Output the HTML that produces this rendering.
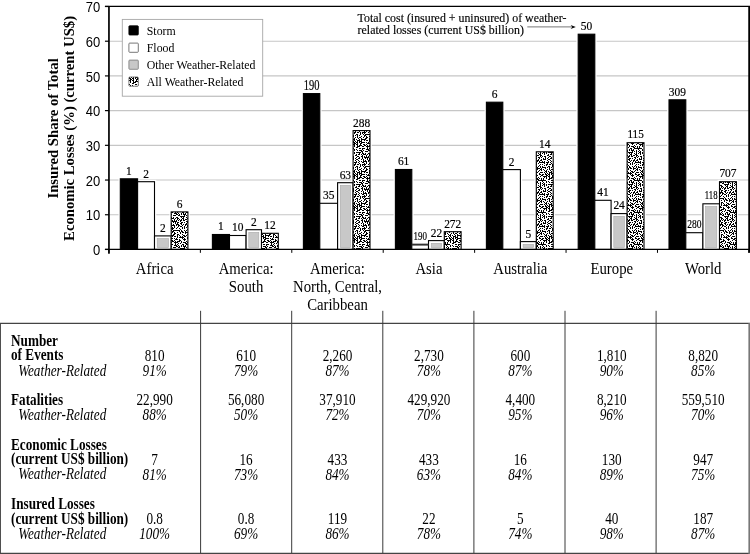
<!DOCTYPE html>
<html><head><meta charset="utf-8"><title>Insured share of total economic losses</title>
<style>html,body{margin:0;padding:0;background:#fff}svg{display:block}</style></head>
<body><svg width="750" height="554" viewBox="0 0 750 554">
<rect width="750" height="554" fill="#fff"/>
<defs><pattern id="sp" width="32" height="32" patternUnits="userSpaceOnUse"><rect width="32" height="32" fill="#fff"/><g fill="#000" shape-rendering="crispEdges"><rect x="3" y="0" width="1" height="1"/><rect x="6" y="0" width="1" height="1"/><rect x="11" y="0" width="1" height="1"/><rect x="13" y="0" width="1" height="1"/><rect x="16" y="0" width="3" height="1"/><rect x="21" y="0" width="1" height="1"/><rect x="23" y="0" width="1" height="1"/><rect x="25" y="0" width="2" height="1"/><rect x="28" y="0" width="2" height="1"/><rect x="0" y="1" width="1" height="1"/><rect x="4" y="1" width="1" height="1"/><rect x="7" y="1" width="1" height="1"/><rect x="9" y="1" width="1" height="1"/><rect x="11" y="1" width="4" height="1"/><rect x="16" y="1" width="1" height="1"/><rect x="18" y="1" width="2" height="1"/><rect x="22" y="1" width="1" height="1"/><rect x="25" y="1" width="1" height="1"/><rect x="27" y="1" width="1" height="1"/><rect x="30" y="1" width="1" height="1"/><rect x="0" y="2" width="1" height="1"/><rect x="2" y="2" width="3" height="1"/><rect x="6" y="2" width="1" height="1"/><rect x="10" y="2" width="2" height="1"/><rect x="14" y="2" width="1" height="1"/><rect x="18" y="2" width="1" height="1"/><rect x="20" y="2" width="2" height="1"/><rect x="24" y="2" width="1" height="1"/><rect x="27" y="2" width="5" height="1"/><rect x="0" y="3" width="1" height="1"/><rect x="3" y="3" width="1" height="1"/><rect x="7" y="3" width="1" height="1"/><rect x="12" y="3" width="1" height="1"/><rect x="14" y="3" width="1" height="1"/><rect x="17" y="3" width="1" height="1"/><rect x="22" y="3" width="1" height="1"/><rect x="24" y="3" width="1" height="1"/><rect x="26" y="3" width="1" height="1"/><rect x="2" y="4" width="2" height="1"/><rect x="5" y="4" width="2" height="1"/><rect x="8" y="4" width="1" height="1"/><rect x="10" y="4" width="4" height="1"/><rect x="16" y="4" width="1" height="1"/><rect x="19" y="4" width="1" height="1"/><rect x="22" y="4" width="1" height="1"/><rect x="24" y="4" width="1" height="1"/><rect x="28" y="4" width="1" height="1"/><rect x="30" y="4" width="1" height="1"/><rect x="0" y="5" width="1" height="1"/><rect x="2" y="5" width="1" height="1"/><rect x="8" y="5" width="1" height="1"/><rect x="10" y="5" width="1" height="1"/><rect x="12" y="5" width="1" height="1"/><rect x="20" y="5" width="1" height="1"/><rect x="27" y="5" width="1" height="1"/><rect x="4" y="6" width="2" height="1"/><rect x="8" y="6" width="1" height="1"/><rect x="11" y="6" width="1" height="1"/><rect x="13" y="6" width="7" height="1"/><rect x="21" y="6" width="1" height="1"/><rect x="24" y="6" width="1" height="1"/><rect x="26" y="6" width="1" height="1"/><rect x="28" y="6" width="1" height="1"/><rect x="30" y="6" width="1" height="1"/><rect x="0" y="7" width="2" height="1"/><rect x="3" y="7" width="1" height="1"/><rect x="5" y="7" width="1" height="1"/><rect x="7" y="7" width="1" height="1"/><rect x="12" y="7" width="2" height="1"/><rect x="19" y="7" width="1" height="1"/><rect x="21" y="7" width="2" height="1"/><rect x="25" y="7" width="1" height="1"/><rect x="28" y="7" width="1" height="1"/><rect x="30" y="7" width="2" height="1"/><rect x="1" y="8" width="1" height="1"/><rect x="5" y="8" width="1" height="1"/><rect x="9" y="8" width="1" height="1"/><rect x="12" y="8" width="1" height="1"/><rect x="14" y="8" width="1" height="1"/><rect x="17" y="8" width="1" height="1"/><rect x="20" y="8" width="1" height="1"/><rect x="22" y="8" width="2" height="1"/><rect x="25" y="8" width="3" height="1"/><rect x="29" y="8" width="1" height="1"/><rect x="3" y="9" width="1" height="1"/><rect x="5" y="9" width="1" height="1"/><rect x="7" y="9" width="2" height="1"/><rect x="11" y="9" width="1" height="1"/><rect x="14" y="9" width="2" height="1"/><rect x="20" y="9" width="1" height="1"/><rect x="25" y="9" width="1" height="1"/><rect x="28" y="9" width="2" height="1"/><rect x="31" y="9" width="1" height="1"/><rect x="0" y="10" width="1" height="1"/><rect x="2" y="10" width="1" height="1"/><rect x="6" y="10" width="1" height="1"/><rect x="9" y="10" width="1" height="1"/><rect x="13" y="10" width="2" height="1"/><rect x="17" y="10" width="2" height="1"/><rect x="22" y="10" width="1" height="1"/><rect x="27" y="10" width="1" height="1"/><rect x="29" y="10" width="1" height="1"/><rect x="1" y="11" width="2" height="1"/><rect x="4" y="11" width="1" height="1"/><rect x="7" y="11" width="1" height="1"/><rect x="9" y="11" width="5" height="1"/><rect x="17" y="11" width="1" height="1"/><rect x="19" y="11" width="1" height="1"/><rect x="23" y="11" width="2" height="1"/><rect x="26" y="11" width="1" height="1"/><rect x="0" y="12" width="1" height="1"/><rect x="2" y="12" width="1" height="1"/><rect x="5" y="12" width="3" height="1"/><rect x="9" y="12" width="1" height="1"/><rect x="12" y="12" width="1" height="1"/><rect x="14" y="12" width="2" height="1"/><rect x="17" y="12" width="1" height="1"/><rect x="20" y="12" width="1" height="1"/><rect x="22" y="12" width="1" height="1"/><rect x="24" y="12" width="2" height="1"/><rect x="28" y="12" width="3" height="1"/><rect x="1" y="13" width="1" height="1"/><rect x="3" y="13" width="1" height="1"/><rect x="5" y="13" width="1" height="1"/><rect x="7" y="13" width="3" height="1"/><rect x="17" y="13" width="1" height="1"/><rect x="19" y="13" width="5" height="1"/><rect x="27" y="13" width="1" height="1"/><rect x="1" y="14" width="2" height="1"/><rect x="4" y="14" width="2" height="1"/><rect x="7" y="14" width="1" height="1"/><rect x="9" y="14" width="4" height="1"/><rect x="14" y="14" width="1" height="1"/><rect x="16" y="14" width="1" height="1"/><rect x="22" y="14" width="1" height="1"/><rect x="24" y="14" width="1" height="1"/><rect x="27" y="14" width="2" height="1"/><rect x="30" y="14" width="2" height="1"/><rect x="2" y="15" width="2" height="1"/><rect x="5" y="15" width="1" height="1"/><rect x="8" y="15" width="2" height="1"/><rect x="15" y="15" width="3" height="1"/><rect x="19" y="15" width="1" height="1"/><rect x="23" y="15" width="3" height="1"/><rect x="29" y="15" width="2" height="1"/><rect x="0" y="16" width="3" height="1"/><rect x="4" y="16" width="2" height="1"/><rect x="8" y="16" width="1" height="1"/><rect x="11" y="16" width="2" height="1"/><rect x="14" y="16" width="1" height="1"/><rect x="19" y="16" width="2" height="1"/><rect x="24" y="16" width="1" height="1"/><rect x="28" y="16" width="1" height="1"/><rect x="31" y="16" width="1" height="1"/><rect x="0" y="17" width="1" height="1"/><rect x="2" y="17" width="1" height="1"/><rect x="5" y="17" width="1" height="1"/><rect x="7" y="17" width="3" height="1"/><rect x="12" y="17" width="2" height="1"/><rect x="15" y="17" width="1" height="1"/><rect x="17" y="17" width="3" height="1"/><rect x="21" y="17" width="1" height="1"/><rect x="26" y="17" width="1" height="1"/><rect x="2" y="18" width="1" height="1"/><rect x="5" y="18" width="3" height="1"/><rect x="10" y="18" width="2" height="1"/><rect x="14" y="18" width="4" height="1"/><rect x="21" y="18" width="1" height="1"/><rect x="23" y="18" width="3" height="1"/><rect x="27" y="18" width="1" height="1"/><rect x="29" y="18" width="1" height="1"/><rect x="31" y="18" width="1" height="1"/><rect x="4" y="19" width="2" height="1"/><rect x="15" y="19" width="1" height="1"/><rect x="18" y="19" width="1" height="1"/><rect x="20" y="19" width="1" height="1"/><rect x="25" y="19" width="2" height="1"/><rect x="29" y="19" width="1" height="1"/><rect x="31" y="19" width="1" height="1"/><rect x="0" y="20" width="2" height="1"/><rect x="7" y="20" width="2" height="1"/><rect x="10" y="20" width="3" height="1"/><rect x="15" y="20" width="1" height="1"/><rect x="17" y="20" width="1" height="1"/><rect x="22" y="20" width="2" height="1"/><rect x="26" y="20" width="6" height="1"/><rect x="2" y="21" width="1" height="1"/><rect x="4" y="21" width="1" height="1"/><rect x="10" y="21" width="1" height="1"/><rect x="14" y="21" width="3" height="1"/><rect x="18" y="21" width="1" height="1"/><rect x="21" y="21" width="1" height="1"/><rect x="23" y="21" width="1" height="1"/><rect x="25" y="21" width="1" height="1"/><rect x="30" y="21" width="1" height="1"/><rect x="2" y="22" width="1" height="1"/><rect x="5" y="22" width="1" height="1"/><rect x="7" y="22" width="3" height="1"/><rect x="11" y="22" width="1" height="1"/><rect x="16" y="22" width="2" height="1"/><rect x="19" y="22" width="1" height="1"/><rect x="21" y="22" width="1" height="1"/><rect x="23" y="22" width="3" height="1"/><rect x="28" y="22" width="1" height="1"/><rect x="31" y="22" width="1" height="1"/><rect x="0" y="23" width="1" height="1"/><rect x="9" y="23" width="2" height="1"/><rect x="13" y="23" width="3" height="1"/><rect x="18" y="23" width="2" height="1"/><rect x="24" y="23" width="1" height="1"/><rect x="26" y="23" width="1" height="1"/><rect x="28" y="23" width="1" height="1"/><rect x="30" y="23" width="1" height="1"/><rect x="0" y="24" width="1" height="1"/><rect x="2" y="24" width="1" height="1"/><rect x="4" y="24" width="5" height="1"/><rect x="10" y="24" width="1" height="1"/><rect x="20" y="24" width="5" height="1"/><rect x="28" y="24" width="1" height="1"/><rect x="31" y="24" width="1" height="1"/><rect x="0" y="25" width="1" height="1"/><rect x="2" y="25" width="1" height="1"/><rect x="7" y="25" width="1" height="1"/><rect x="10" y="25" width="2" height="1"/><rect x="13" y="25" width="1" height="1"/><rect x="16" y="25" width="2" height="1"/><rect x="21" y="25" width="1" height="1"/><rect x="23" y="25" width="1" height="1"/><rect x="26" y="25" width="1" height="1"/><rect x="28" y="25" width="1" height="1"/><rect x="30" y="25" width="1" height="1"/><rect x="0" y="26" width="1" height="1"/><rect x="4" y="26" width="1" height="1"/><rect x="6" y="26" width="2" height="1"/><rect x="9" y="26" width="1" height="1"/><rect x="11" y="26" width="3" height="1"/><rect x="15" y="26" width="1" height="1"/><rect x="17" y="26" width="2" height="1"/><rect x="22" y="26" width="2" height="1"/><rect x="27" y="26" width="2" height="1"/><rect x="3" y="27" width="2" height="1"/><rect x="10" y="27" width="1" height="1"/><rect x="14" y="27" width="1" height="1"/><rect x="17" y="27" width="1" height="1"/><rect x="19" y="27" width="1" height="1"/><rect x="21" y="27" width="1" height="1"/><rect x="23" y="27" width="1" height="1"/><rect x="25" y="27" width="2" height="1"/><rect x="28" y="27" width="2" height="1"/><rect x="0" y="28" width="2" height="1"/><rect x="5" y="28" width="2" height="1"/><rect x="9" y="28" width="2" height="1"/><rect x="12" y="28" width="1" height="1"/><rect x="14" y="28" width="1" height="1"/><rect x="16" y="28" width="1" height="1"/><rect x="18" y="28" width="1" height="1"/><rect x="20" y="28" width="2" height="1"/><rect x="23" y="28" width="2" height="1"/><rect x="28" y="28" width="1" height="1"/><rect x="30" y="28" width="1" height="1"/><rect x="1" y="29" width="1" height="1"/><rect x="4" y="29" width="1" height="1"/><rect x="7" y="29" width="1" height="1"/><rect x="10" y="29" width="1" height="1"/><rect x="12" y="29" width="5" height="1"/><rect x="20" y="29" width="1" height="1"/><rect x="26" y="29" width="2" height="1"/><rect x="29" y="29" width="1" height="1"/><rect x="1" y="30" width="1" height="1"/><rect x="3" y="30" width="1" height="1"/><rect x="6" y="30" width="2" height="1"/><rect x="10" y="30" width="1" height="1"/><rect x="13" y="30" width="1" height="1"/><rect x="15" y="30" width="1" height="1"/><rect x="17" y="30" width="2" height="1"/><rect x="21" y="30" width="2" height="1"/><rect x="24" y="30" width="1" height="1"/><rect x="27" y="30" width="1" height="1"/><rect x="31" y="30" width="1" height="1"/><rect x="0" y="31" width="2" height="1"/><rect x="4" y="31" width="2" height="1"/><rect x="9" y="31" width="1" height="1"/><rect x="11" y="31" width="1" height="1"/><rect x="15" y="31" width="1" height="1"/><rect x="17" y="31" width="1" height="1"/><rect x="20" y="31" width="2" height="1"/><rect x="26" y="31" width="1" height="1"/><rect x="29" y="31" width="1" height="1"/><rect x="31" y="31" width="1" height="1"/></g></pattern></defs>
<line x1="108.95" y1="214.74" x2="749" y2="214.74" stroke="#c6c6c6" stroke-width="1.15"/>
<line x1="108.95" y1="180.04" x2="749" y2="180.04" stroke="#c6c6c6" stroke-width="1.15"/>
<line x1="108.95" y1="145.33" x2="749" y2="145.33" stroke="#c6c6c6" stroke-width="1.15"/>
<line x1="108.95" y1="110.62" x2="749" y2="110.62" stroke="#c6c6c6" stroke-width="1.15"/>
<line x1="108.95" y1="75.91" x2="749" y2="75.91" stroke="#c6c6c6" stroke-width="1.15"/>
<line x1="108.95" y1="41.21" x2="749" y2="41.21" stroke="#c6c6c6" stroke-width="1.15"/>
<line x1="104.95" y1="6.45" x2="750" y2="6.45" stroke="#000" stroke-width="1.25"/>
<line x1="108.95" y1="5.9" x2="108.95" y2="253.64999999999998" stroke="#000" stroke-width="1.7"/>
<line x1="749.2" y1="5.9" x2="749.2" y2="252.85" stroke="#000" stroke-width="1.9"/>
<line x1="104.95" y1="249.45" x2="108.95" y2="249.45" stroke="#000" stroke-width="1.2"/>
<text transform="translate(100.20,255.05) scale(0.930,1)" font-family="'Liberation Sans',sans-serif" font-size="14" text-anchor="end" font-weight="normal" font-style="normal" fill="#000" >0</text>
<line x1="104.95" y1="214.74" x2="108.95" y2="214.74" stroke="#000" stroke-width="1.2"/>
<text transform="translate(100.20,220.34) scale(0.930,1)" font-family="'Liberation Sans',sans-serif" font-size="14" text-anchor="end" font-weight="normal" font-style="normal" fill="#000" >10</text>
<line x1="104.95" y1="180.04" x2="108.95" y2="180.04" stroke="#000" stroke-width="1.2"/>
<text transform="translate(100.20,185.64) scale(0.930,1)" font-family="'Liberation Sans',sans-serif" font-size="14" text-anchor="end" font-weight="normal" font-style="normal" fill="#000" >20</text>
<line x1="104.95" y1="145.33" x2="108.95" y2="145.33" stroke="#000" stroke-width="1.2"/>
<text transform="translate(100.20,150.93) scale(0.930,1)" font-family="'Liberation Sans',sans-serif" font-size="14" text-anchor="end" font-weight="normal" font-style="normal" fill="#000" >30</text>
<line x1="104.95" y1="110.62" x2="108.95" y2="110.62" stroke="#000" stroke-width="1.2"/>
<text transform="translate(100.20,116.22) scale(0.930,1)" font-family="'Liberation Sans',sans-serif" font-size="14" text-anchor="end" font-weight="normal" font-style="normal" fill="#000" >40</text>
<line x1="104.95" y1="75.91" x2="108.95" y2="75.91" stroke="#000" stroke-width="1.2"/>
<text transform="translate(100.20,81.51) scale(0.930,1)" font-family="'Liberation Sans',sans-serif" font-size="14" text-anchor="end" font-weight="normal" font-style="normal" fill="#000" >50</text>
<line x1="104.95" y1="41.21" x2="108.95" y2="41.21" stroke="#000" stroke-width="1.2"/>
<text transform="translate(100.20,46.81) scale(0.930,1)" font-family="'Liberation Sans',sans-serif" font-size="14" text-anchor="end" font-weight="normal" font-style="normal" fill="#000" >60</text>
<line x1="104.95" y1="6.50" x2="108.95" y2="6.50" stroke="#000" stroke-width="1.2"/>
<text transform="translate(100.20,12.10) scale(0.930,1)" font-family="'Liberation Sans',sans-serif" font-size="14" text-anchor="end" font-weight="normal" font-style="normal" fill="#000" >70</text>
<line x1="108.95" y1="249.45" x2="108.95" y2="252.85" stroke="#000" stroke-width="1.0"/>
<line x1="200.37" y1="249.45" x2="200.37" y2="252.85" stroke="#000" stroke-width="1.0"/>
<line x1="291.79" y1="249.45" x2="291.79" y2="252.85" stroke="#000" stroke-width="1.0"/>
<line x1="383.21" y1="249.45" x2="383.21" y2="252.85" stroke="#000" stroke-width="1.0"/>
<line x1="474.63" y1="249.45" x2="474.63" y2="252.85" stroke="#000" stroke-width="1.0"/>
<line x1="566.05" y1="249.45" x2="566.05" y2="252.85" stroke="#000" stroke-width="1.0"/>
<line x1="657.47" y1="249.45" x2="657.47" y2="252.85" stroke="#000" stroke-width="1.0"/>
<line x1="748.89" y1="249.45" x2="748.89" y2="252.85" stroke="#000" stroke-width="1.0"/>
<rect x="120.30" y="178.80" width="17.30" height="70.65" fill="#fff" stroke="#fff" stroke-width="3.6"/>
<rect x="137.60" y="181.70" width="16.90" height="67.75" fill="#fff" stroke="#fff" stroke-width="3.6"/>
<rect x="154.50" y="235.90" width="16.70" height="13.55" fill="#fff" stroke="#fff" stroke-width="3.6"/>
<rect x="171.20" y="211.90" width="16.70" height="37.55" fill="#fff" stroke="#fff" stroke-width="3.6"/>
<rect x="212.40" y="234.50" width="17.10" height="14.95" fill="#fff" stroke="#fff" stroke-width="3.6"/>
<rect x="229.50" y="235.50" width="16.60" height="13.95" fill="#fff" stroke="#fff" stroke-width="3.6"/>
<rect x="246.10" y="229.70" width="15.40" height="19.75" fill="#fff" stroke="#fff" stroke-width="3.6"/>
<rect x="261.50" y="233.30" width="16.80" height="16.15" fill="#fff" stroke="#fff" stroke-width="3.6"/>
<rect x="303.40" y="93.60" width="16.40" height="155.85" fill="#fff" stroke="#fff" stroke-width="3.6"/>
<rect x="319.80" y="203.30" width="17.80" height="46.15" fill="#fff" stroke="#fff" stroke-width="3.6"/>
<rect x="337.60" y="182.70" width="15.50" height="66.75" fill="#fff" stroke="#fff" stroke-width="3.6"/>
<rect x="353.10" y="130.60" width="16.90" height="118.85" fill="#fff" stroke="#fff" stroke-width="3.6"/>
<rect x="395.40" y="169.50" width="16.40" height="79.95" fill="#fff" stroke="#fff" stroke-width="3.6"/>
<rect x="411.80" y="244.40" width="16.70" height="5.05" fill="#fff" stroke="#fff" stroke-width="3.6"/>
<rect x="428.50" y="240.60" width="15.80" height="8.85" fill="#fff" stroke="#fff" stroke-width="3.6"/>
<rect x="444.30" y="231.70" width="16.80" height="17.75" fill="#fff" stroke="#fff" stroke-width="3.6"/>
<rect x="486.40" y="102.20" width="16.40" height="147.25" fill="#fff" stroke="#fff" stroke-width="3.6"/>
<rect x="502.80" y="169.60" width="17.60" height="79.85" fill="#fff" stroke="#fff" stroke-width="3.6"/>
<rect x="520.40" y="241.60" width="15.90" height="7.85" fill="#fff" stroke="#fff" stroke-width="3.6"/>
<rect x="536.30" y="151.80" width="16.90" height="97.65" fill="#fff" stroke="#fff" stroke-width="3.6"/>
<rect x="578.20" y="34.20" width="16.60" height="215.25" fill="#fff" stroke="#fff" stroke-width="3.6"/>
<rect x="594.80" y="200.30" width="16.30" height="49.15" fill="#fff" stroke="#fff" stroke-width="3.6"/>
<rect x="611.10" y="213.60" width="16.00" height="35.85" fill="#fff" stroke="#fff" stroke-width="3.6"/>
<rect x="627.10" y="142.70" width="16.90" height="106.75" fill="#fff" stroke="#fff" stroke-width="3.6"/>
<rect x="669.00" y="99.80" width="16.80" height="149.65" fill="#fff" stroke="#fff" stroke-width="3.6"/>
<rect x="685.80" y="232.70" width="17.10" height="16.75" fill="#fff" stroke="#fff" stroke-width="3.6"/>
<rect x="702.90" y="203.80" width="16.60" height="45.65" fill="#fff" stroke="#fff" stroke-width="3.6"/>
<rect x="719.50" y="181.70" width="16.90" height="67.75" fill="#fff" stroke="#fff" stroke-width="3.6"/>
<rect x="120.30" y="178.80" width="17.30" height="70.65" fill="#000" stroke="#000" stroke-width="1.1"/>
<text transform="translate(128.95,174.70) scale(0.880,1)" font-family="'Liberation Serif',serif" font-size="13" text-anchor="middle" font-weight="normal" font-style="normal" fill="#000" stroke="#000" stroke-width="0.2">1</text>
<rect x="137.60" y="181.70" width="16.90" height="67.75" fill="#fff" stroke="#000" stroke-width="1.1"/>
<text transform="translate(146.05,177.60) scale(0.880,1)" font-family="'Liberation Serif',serif" font-size="13" text-anchor="middle" font-weight="normal" font-style="normal" fill="#000" stroke="#000" stroke-width="0.2">2</text>
<rect x="154.50" y="235.90" width="16.70" height="13.55" fill="#fff" stroke="#000" stroke-width="1.1"/>
<rect x="157.20" y="238.60" width="11.30" height="8.95" fill="#c8c8c8" stroke="#a8a8a8" stroke-width="0.6"/>
<text transform="translate(162.85,231.80) scale(0.880,1)" font-family="'Liberation Serif',serif" font-size="13" text-anchor="middle" font-weight="normal" font-style="normal" fill="#000" stroke="#000" stroke-width="0.2">2</text>
<rect x="171.20" y="211.90" width="16.70" height="37.55" fill="url(#sp)" stroke="#000" stroke-width="1.1"/>
<text transform="translate(179.55,207.80) scale(0.880,1)" font-family="'Liberation Serif',serif" font-size="13" text-anchor="middle" font-weight="normal" font-style="normal" fill="#000" stroke="#000" stroke-width="0.2">6</text>
<rect x="212.40" y="234.50" width="17.10" height="14.95" fill="#000" stroke="#000" stroke-width="1.1"/>
<text transform="translate(220.95,230.40) scale(0.880,1)" font-family="'Liberation Serif',serif" font-size="13" text-anchor="middle" font-weight="normal" font-style="normal" fill="#000" stroke="#000" stroke-width="0.2">1</text>
<rect x="229.50" y="235.50" width="16.60" height="13.95" fill="#fff" stroke="#000" stroke-width="1.1"/>
<text transform="translate(237.80,231.40) scale(0.880,1)" font-family="'Liberation Serif',serif" font-size="13" text-anchor="middle" font-weight="normal" font-style="normal" fill="#000" stroke="#000" stroke-width="0.2">10</text>
<rect x="246.10" y="229.70" width="15.40" height="19.75" fill="#fff" stroke="#000" stroke-width="1.1"/>
<rect x="248.80" y="232.40" width="10.00" height="15.15" fill="#c8c8c8" stroke="#a8a8a8" stroke-width="0.6"/>
<text transform="translate(253.80,225.60) scale(0.880,1)" font-family="'Liberation Serif',serif" font-size="13" text-anchor="middle" font-weight="normal" font-style="normal" fill="#000" stroke="#000" stroke-width="0.2">2</text>
<rect x="261.50" y="233.30" width="16.80" height="16.15" fill="url(#sp)" stroke="#000" stroke-width="1.1"/>
<text transform="translate(269.90,229.20) scale(0.880,1)" font-family="'Liberation Serif',serif" font-size="13" text-anchor="middle" font-weight="normal" font-style="normal" fill="#000" stroke="#000" stroke-width="0.2">12</text>
<rect x="303.40" y="93.60" width="16.40" height="155.85" fill="#000" stroke="#000" stroke-width="1.1"/>
<text transform="translate(311.60,90.10) scale(0.740,1)" font-family="'Liberation Serif',serif" font-size="14.2" text-anchor="middle" font-weight="normal" font-style="normal" fill="#000" stroke="#000" stroke-width="0.2">190</text>
<rect x="319.80" y="203.30" width="17.80" height="46.15" fill="#fff" stroke="#000" stroke-width="1.1"/>
<text transform="translate(328.70,199.20) scale(0.880,1)" font-family="'Liberation Serif',serif" font-size="13" text-anchor="middle" font-weight="normal" font-style="normal" fill="#000" stroke="#000" stroke-width="0.2">35</text>
<rect x="337.60" y="182.70" width="15.50" height="66.75" fill="#fff" stroke="#000" stroke-width="1.1"/>
<rect x="340.30" y="185.40" width="10.10" height="62.15" fill="#c8c8c8" stroke="#a8a8a8" stroke-width="0.6"/>
<text transform="translate(345.35,178.60) scale(0.880,1)" font-family="'Liberation Serif',serif" font-size="13" text-anchor="middle" font-weight="normal" font-style="normal" fill="#000" stroke="#000" stroke-width="0.2">63</text>
<rect x="353.10" y="130.60" width="16.90" height="118.85" fill="url(#sp)" stroke="#000" stroke-width="1.1"/>
<text transform="translate(361.55,126.50) scale(0.880,1)" font-family="'Liberation Serif',serif" font-size="13" text-anchor="middle" font-weight="normal" font-style="normal" fill="#000" stroke="#000" stroke-width="0.2">288</text>
<rect x="395.40" y="169.50" width="16.40" height="79.95" fill="#000" stroke="#000" stroke-width="1.1"/>
<text transform="translate(403.60,165.40) scale(0.880,1)" font-family="'Liberation Serif',serif" font-size="13" text-anchor="middle" font-weight="normal" font-style="normal" fill="#000" stroke="#000" stroke-width="0.2">61</text>
<rect x="411.80" y="244.40" width="16.70" height="5.05" fill="#fff" stroke="#000" stroke-width="1.1"/>
<text transform="translate(420.15,240.30) scale(0.690,1)" font-family="'Liberation Serif',serif" font-size="13" text-anchor="middle" font-weight="normal" font-style="normal" fill="#000" stroke="#000" stroke-width="0.2">190</text>
<rect x="428.50" y="240.60" width="15.80" height="8.85" fill="#fff" stroke="#000" stroke-width="1.1"/>
<rect x="431.20" y="243.30" width="10.40" height="4.25" fill="#c8c8c8" stroke="#a8a8a8" stroke-width="0.6"/>
<text transform="translate(436.40,236.50) scale(0.880,1)" font-family="'Liberation Serif',serif" font-size="13" text-anchor="middle" font-weight="normal" font-style="normal" fill="#000" stroke="#000" stroke-width="0.2">22</text>
<rect x="444.30" y="231.70" width="16.80" height="17.75" fill="url(#sp)" stroke="#000" stroke-width="1.1"/>
<text transform="translate(452.70,227.60) scale(0.880,1)" font-family="'Liberation Serif',serif" font-size="13" text-anchor="middle" font-weight="normal" font-style="normal" fill="#000" stroke="#000" stroke-width="0.2">272</text>
<rect x="486.40" y="102.20" width="16.40" height="147.25" fill="#000" stroke="#000" stroke-width="1.1"/>
<text transform="translate(494.60,98.10) scale(0.880,1)" font-family="'Liberation Serif',serif" font-size="13" text-anchor="middle" font-weight="normal" font-style="normal" fill="#000" stroke="#000" stroke-width="0.2">6</text>
<rect x="502.80" y="169.60" width="17.60" height="79.85" fill="#fff" stroke="#000" stroke-width="1.1"/>
<text transform="translate(511.60,165.50) scale(0.880,1)" font-family="'Liberation Serif',serif" font-size="13" text-anchor="middle" font-weight="normal" font-style="normal" fill="#000" stroke="#000" stroke-width="0.2">2</text>
<rect x="520.40" y="241.60" width="15.90" height="7.85" fill="#fff" stroke="#000" stroke-width="1.1"/>
<rect x="523.10" y="244.30" width="10.50" height="3.25" fill="#c8c8c8" stroke="#a8a8a8" stroke-width="0.6"/>
<text transform="translate(528.35,237.50) scale(0.880,1)" font-family="'Liberation Serif',serif" font-size="13" text-anchor="middle" font-weight="normal" font-style="normal" fill="#000" stroke="#000" stroke-width="0.2">5</text>
<rect x="536.30" y="151.80" width="16.90" height="97.65" fill="url(#sp)" stroke="#000" stroke-width="1.1"/>
<text transform="translate(544.75,147.70) scale(0.880,1)" font-family="'Liberation Serif',serif" font-size="13" text-anchor="middle" font-weight="normal" font-style="normal" fill="#000" stroke="#000" stroke-width="0.2">14</text>
<rect x="578.20" y="34.20" width="16.60" height="215.25" fill="#000" stroke="#000" stroke-width="1.1"/>
<text transform="translate(586.50,30.10) scale(0.880,1)" font-family="'Liberation Serif',serif" font-size="13" text-anchor="middle" font-weight="normal" font-style="normal" fill="#000" stroke="#000" stroke-width="0.2">50</text>
<rect x="594.80" y="200.30" width="16.30" height="49.15" fill="#fff" stroke="#000" stroke-width="1.1"/>
<text transform="translate(602.95,196.20) scale(0.880,1)" font-family="'Liberation Serif',serif" font-size="13" text-anchor="middle" font-weight="normal" font-style="normal" fill="#000" stroke="#000" stroke-width="0.2">41</text>
<rect x="611.10" y="213.60" width="16.00" height="35.85" fill="#fff" stroke="#000" stroke-width="1.1"/>
<rect x="613.80" y="216.30" width="10.60" height="31.25" fill="#c8c8c8" stroke="#a8a8a8" stroke-width="0.6"/>
<text transform="translate(619.10,208.90) scale(0.880,1)" font-family="'Liberation Serif',serif" font-size="13" text-anchor="middle" font-weight="normal" font-style="normal" fill="#000" stroke="#000" stroke-width="0.2">24</text>
<rect x="627.10" y="142.70" width="16.90" height="106.75" fill="url(#sp)" stroke="#000" stroke-width="1.1"/>
<text transform="translate(635.55,138.00) scale(0.860,1)" font-family="'Liberation Serif',serif" font-size="13" text-anchor="middle" font-weight="normal" font-style="normal" fill="#000" stroke="#000" stroke-width="0.2">115</text>
<rect x="669.00" y="99.80" width="16.80" height="149.65" fill="#000" stroke="#000" stroke-width="1.1"/>
<text transform="translate(677.40,95.70) scale(0.880,1)" font-family="'Liberation Serif',serif" font-size="13" text-anchor="middle" font-weight="normal" font-style="normal" fill="#000" stroke="#000" stroke-width="0.2">309</text>
<rect x="685.80" y="232.70" width="17.10" height="16.75" fill="#fff" stroke="#000" stroke-width="1.1"/>
<text transform="translate(694.35,228.30) scale(0.730,1)" font-family="'Liberation Serif',serif" font-size="13" text-anchor="middle" font-weight="normal" font-style="normal" fill="#000" stroke="#000" stroke-width="0.2">280</text>
<rect x="702.90" y="203.80" width="16.60" height="45.65" fill="#fff" stroke="#000" stroke-width="1.1"/>
<rect x="705.60" y="206.50" width="11.20" height="41.05" fill="#c8c8c8" stroke="#a8a8a8" stroke-width="0.6"/>
<text transform="translate(711.20,199.00) scale(0.670,1)" font-family="'Liberation Serif',serif" font-size="13" text-anchor="middle" font-weight="normal" font-style="normal" fill="#000" stroke="#000" stroke-width="0.2">118</text>
<rect x="719.50" y="181.70" width="16.90" height="67.75" fill="url(#sp)" stroke="#000" stroke-width="1.1"/>
<text transform="translate(727.95,176.60) scale(0.880,1)" font-family="'Liberation Serif',serif" font-size="13" text-anchor="middle" font-weight="normal" font-style="normal" fill="#000" stroke="#000" stroke-width="0.2">707</text>
<line x1="411.8" y1="244.7" x2="428.5" y2="244.7" stroke="#333" stroke-width="1.8"/>
<line x1="104.95" y1="249.45" x2="750" y2="249.45" stroke="#000" stroke-width="1.3"/>
<rect x="122.3" y="19.4" width="140.4" height="76.8" fill="#fff" stroke="#a6a6a6" stroke-width="0.9"/>
<rect x="128.9" y="25.799999999999997" width="9.4" height="9.2" rx="0.8" fill="#000" stroke="#000" stroke-width="0.8"/>
<text transform="translate(146.80,35.00) scale(0.897,1)" font-family="'Liberation Serif',serif" font-size="13.2" text-anchor="start" font-weight="normal" font-style="normal" fill="#000" >Storm</text>
<rect x="128.9" y="43.1" width="9.4" height="9.2" rx="0.8" fill="#fff" stroke="#555" stroke-width="0.8"/>
<text transform="translate(146.80,52.30) scale(0.897,1)" font-family="'Liberation Serif',serif" font-size="13.2" text-anchor="start" font-weight="normal" font-style="normal" fill="#000" >Flood</text>
<rect x="128.9" y="60.1" width="9.4" height="9.2" rx="0.8" fill="#c8c8c8" stroke="#777" stroke-width="0.8"/>
<text transform="translate(146.80,69.30) scale(0.897,1)" font-family="'Liberation Serif',serif" font-size="13.2" text-anchor="start" font-weight="normal" font-style="normal" fill="#000" >Other Weather-Related</text>
<rect x="128.9" y="77.0" width="9.4" height="9.2" rx="0.8" fill="url(#sp)" stroke="#666" stroke-width="0.8"/>
<text transform="translate(146.80,86.20) scale(0.897,1)" font-family="'Liberation Serif',serif" font-size="13.2" text-anchor="start" font-weight="normal" font-style="normal" fill="#000" >All Weather-Related</text>
<text transform="translate(357.60,21.50) scale(0.990,1)" font-family="'Liberation Serif',serif" font-size="12" text-anchor="start" font-weight="normal" font-style="normal" fill="#000" stroke="#000" stroke-width="0.15">Total cost (insured + uninsured) of weather-</text>
<text transform="translate(357.60,33.60) scale(0.990,1)" font-family="'Liberation Serif',serif" font-size="12" text-anchor="start" font-weight="normal" font-style="normal" fill="#000" stroke="#000" stroke-width="0.15">related losses (current US$ billion)</text>
<line x1="527.3" y1="26.9" x2="572" y2="26.9" stroke="#777" stroke-width="1"/>
<path d="M575.8 26.9 L570.6 24.9 L572.3 26.9 L570.6 28.9 Z" fill="#000"/>
<text transform="translate(58.20,128.40) rotate(-90) scale(0.980,1)" font-family="'Liberation Serif',serif" font-size="15" text-anchor="middle" font-weight="bold" font-style="normal" fill="#000" >Insured Share of Total</text>
<text transform="translate(73.60,128.40) rotate(-90) scale(0.980,1)" font-family="'Liberation Serif',serif" font-size="15" text-anchor="middle" font-weight="bold" font-style="normal" fill="#000" >Economic Losses (%) (current US$)</text>
<text transform="translate(154.66,273.80) scale(0.935,1)" font-family="'Liberation Serif',serif" font-size="15.8" text-anchor="middle" font-weight="normal" font-style="normal" fill="#000" >Africa</text>
<text transform="translate(246.08,273.80) scale(0.935,1)" font-family="'Liberation Serif',serif" font-size="15.8" text-anchor="middle" font-weight="normal" font-style="normal" fill="#000" >America:</text>
<text transform="translate(246.08,291.70) scale(0.935,1)" font-family="'Liberation Serif',serif" font-size="15.8" text-anchor="middle" font-weight="normal" font-style="normal" fill="#000" >South</text>
<text transform="translate(337.50,273.80) scale(0.935,1)" font-family="'Liberation Serif',serif" font-size="15.8" text-anchor="middle" font-weight="normal" font-style="normal" fill="#000" >America:</text>
<text transform="translate(337.50,291.70) scale(0.935,1)" font-family="'Liberation Serif',serif" font-size="15.8" text-anchor="middle" font-weight="normal" font-style="normal" fill="#000" >North, Central,</text>
<text transform="translate(337.50,309.60) scale(0.935,1)" font-family="'Liberation Serif',serif" font-size="15.8" text-anchor="middle" font-weight="normal" font-style="normal" fill="#000" >Caribbean</text>
<text transform="translate(428.92,273.80) scale(0.935,1)" font-family="'Liberation Serif',serif" font-size="15.8" text-anchor="middle" font-weight="normal" font-style="normal" fill="#000" >Asia</text>
<text transform="translate(520.34,273.80) scale(0.935,1)" font-family="'Liberation Serif',serif" font-size="15.8" text-anchor="middle" font-weight="normal" font-style="normal" fill="#000" >Australia</text>
<text transform="translate(611.76,273.80) scale(0.935,1)" font-family="'Liberation Serif',serif" font-size="15.8" text-anchor="middle" font-weight="normal" font-style="normal" fill="#000" >Europe</text>
<text transform="translate(703.18,273.80) scale(0.935,1)" font-family="'Liberation Serif',serif" font-size="15.8" text-anchor="middle" font-weight="normal" font-style="normal" fill="#000" >World</text>
<line x1="0" y1="323.3" x2="750" y2="323.3" stroke="#444" stroke-width="1.2"/>
<line x1="0" y1="553.3" x2="750" y2="553.3" stroke="#444" stroke-width="1.3"/>
<line x1="0.45" y1="323" x2="0.45" y2="554" stroke="#444" stroke-width="1.0"/>
<line x1="749.2" y1="323" x2="749.2" y2="554" stroke="#777" stroke-width="1.6"/>
<line x1="200.60" y1="310.8" x2="200.60" y2="553" stroke="#3a3a3a" stroke-width="1.0"/>
<line x1="291.70" y1="310.8" x2="291.70" y2="553" stroke="#3a3a3a" stroke-width="1.0"/>
<line x1="382.80" y1="310.8" x2="382.80" y2="553" stroke="#3a3a3a" stroke-width="1.0"/>
<line x1="473.90" y1="310.8" x2="473.90" y2="553" stroke="#3a3a3a" stroke-width="1.0"/>
<line x1="565.00" y1="310.8" x2="565.00" y2="553" stroke="#3a3a3a" stroke-width="1.0"/>
<line x1="656.10" y1="310.8" x2="656.10" y2="553" stroke="#3a3a3a" stroke-width="1.0"/>
<text transform="translate(11.00,345.80) scale(0.843,1)" font-family="'Liberation Serif',serif" font-size="15.7" text-anchor="start" font-weight="bold" font-style="normal" fill="#000" >Number</text>
<text transform="translate(11.00,360.40) scale(0.843,1)" font-family="'Liberation Serif',serif" font-size="15.7" text-anchor="start" font-weight="bold" font-style="normal" fill="#000" >of Events</text>
<text transform="translate(18.20,375.50) scale(0.843,1)" font-family="'Liberation Serif',serif" font-size="15.7" text-anchor="start" font-weight="normal" font-style="italic" fill="#000" >Weather-Related</text>
<text transform="translate(11.00,405.00) scale(0.843,1)" font-family="'Liberation Serif',serif" font-size="15.7" text-anchor="start" font-weight="bold" font-style="normal" fill="#000" >Fatalities</text>
<text transform="translate(18.20,420.10) scale(0.843,1)" font-family="'Liberation Serif',serif" font-size="15.7" text-anchor="start" font-weight="normal" font-style="italic" fill="#000" >Weather-Related</text>
<text transform="translate(11.00,449.80) scale(0.843,1)" font-family="'Liberation Serif',serif" font-size="15.7" text-anchor="start" font-weight="bold" font-style="normal" fill="#000" >Economic Losses</text>
<text transform="translate(11.00,464.20) scale(0.843,1)" font-family="'Liberation Serif',serif" font-size="15.7" text-anchor="start" font-weight="bold" font-style="normal" fill="#000" >(current US$ billion)</text>
<text transform="translate(18.20,479.20) scale(0.843,1)" font-family="'Liberation Serif',serif" font-size="15.7" text-anchor="start" font-weight="normal" font-style="italic" fill="#000" >Weather-Related</text>
<text transform="translate(11.00,508.70) scale(0.843,1)" font-family="'Liberation Serif',serif" font-size="15.7" text-anchor="start" font-weight="bold" font-style="normal" fill="#000" >Insured Losses</text>
<text transform="translate(11.00,523.80) scale(0.843,1)" font-family="'Liberation Serif',serif" font-size="15.7" text-anchor="start" font-weight="bold" font-style="normal" fill="#000" >(current US$ billion)</text>
<text transform="translate(18.20,539.10) scale(0.843,1)" font-family="'Liberation Serif',serif" font-size="15.7" text-anchor="start" font-weight="normal" font-style="italic" fill="#000" >Weather-Related</text>
<text transform="translate(154.66,360.50) scale(0.843,1)" font-family="'Liberation Serif',serif" font-size="15.7" text-anchor="middle" font-weight="normal" font-style="normal" fill="#000" >810</text>
<text transform="translate(246.08,360.50) scale(0.843,1)" font-family="'Liberation Serif',serif" font-size="15.7" text-anchor="middle" font-weight="normal" font-style="normal" fill="#000" >610</text>
<text transform="translate(337.50,360.50) scale(0.843,1)" font-family="'Liberation Serif',serif" font-size="15.7" text-anchor="middle" font-weight="normal" font-style="normal" fill="#000" >2,260</text>
<text transform="translate(428.92,360.50) scale(0.843,1)" font-family="'Liberation Serif',serif" font-size="15.7" text-anchor="middle" font-weight="normal" font-style="normal" fill="#000" >2,730</text>
<text transform="translate(520.34,360.50) scale(0.843,1)" font-family="'Liberation Serif',serif" font-size="15.7" text-anchor="middle" font-weight="normal" font-style="normal" fill="#000" >600</text>
<text transform="translate(611.76,360.50) scale(0.843,1)" font-family="'Liberation Serif',serif" font-size="15.7" text-anchor="middle" font-weight="normal" font-style="normal" fill="#000" >1,810</text>
<text transform="translate(703.18,360.50) scale(0.843,1)" font-family="'Liberation Serif',serif" font-size="15.7" text-anchor="middle" font-weight="normal" font-style="normal" fill="#000" >8,820</text>
<text transform="translate(154.66,375.50) scale(0.843,1)" font-family="'Liberation Serif',serif" font-size="15.7" text-anchor="middle" font-weight="normal" font-style="italic" fill="#000" >91%</text>
<text transform="translate(246.08,375.50) scale(0.843,1)" font-family="'Liberation Serif',serif" font-size="15.7" text-anchor="middle" font-weight="normal" font-style="italic" fill="#000" >79%</text>
<text transform="translate(337.50,375.50) scale(0.843,1)" font-family="'Liberation Serif',serif" font-size="15.7" text-anchor="middle" font-weight="normal" font-style="italic" fill="#000" >87%</text>
<text transform="translate(428.92,375.50) scale(0.843,1)" font-family="'Liberation Serif',serif" font-size="15.7" text-anchor="middle" font-weight="normal" font-style="italic" fill="#000" >78%</text>
<text transform="translate(520.34,375.50) scale(0.843,1)" font-family="'Liberation Serif',serif" font-size="15.7" text-anchor="middle" font-weight="normal" font-style="italic" fill="#000" >87%</text>
<text transform="translate(611.76,375.50) scale(0.843,1)" font-family="'Liberation Serif',serif" font-size="15.7" text-anchor="middle" font-weight="normal" font-style="italic" fill="#000" >90%</text>
<text transform="translate(703.18,375.50) scale(0.843,1)" font-family="'Liberation Serif',serif" font-size="15.7" text-anchor="middle" font-weight="normal" font-style="italic" fill="#000" >85%</text>
<text transform="translate(154.66,405.10) scale(0.843,1)" font-family="'Liberation Serif',serif" font-size="15.7" text-anchor="middle" font-weight="normal" font-style="normal" fill="#000" >22,990</text>
<text transform="translate(246.08,405.10) scale(0.843,1)" font-family="'Liberation Serif',serif" font-size="15.7" text-anchor="middle" font-weight="normal" font-style="normal" fill="#000" >56,080</text>
<text transform="translate(337.50,405.10) scale(0.843,1)" font-family="'Liberation Serif',serif" font-size="15.7" text-anchor="middle" font-weight="normal" font-style="normal" fill="#000" >37,910</text>
<text transform="translate(428.92,405.10) scale(0.843,1)" font-family="'Liberation Serif',serif" font-size="15.7" text-anchor="middle" font-weight="normal" font-style="normal" fill="#000" >429,920</text>
<text transform="translate(520.34,405.10) scale(0.843,1)" font-family="'Liberation Serif',serif" font-size="15.7" text-anchor="middle" font-weight="normal" font-style="normal" fill="#000" >4,400</text>
<text transform="translate(611.76,405.10) scale(0.843,1)" font-family="'Liberation Serif',serif" font-size="15.7" text-anchor="middle" font-weight="normal" font-style="normal" fill="#000" >8,210</text>
<text transform="translate(703.18,405.10) scale(0.843,1)" font-family="'Liberation Serif',serif" font-size="15.7" text-anchor="middle" font-weight="normal" font-style="normal" fill="#000" >559,510</text>
<text transform="translate(154.66,420.10) scale(0.843,1)" font-family="'Liberation Serif',serif" font-size="15.7" text-anchor="middle" font-weight="normal" font-style="italic" fill="#000" >88%</text>
<text transform="translate(246.08,420.10) scale(0.843,1)" font-family="'Liberation Serif',serif" font-size="15.7" text-anchor="middle" font-weight="normal" font-style="italic" fill="#000" >50%</text>
<text transform="translate(337.50,420.10) scale(0.843,1)" font-family="'Liberation Serif',serif" font-size="15.7" text-anchor="middle" font-weight="normal" font-style="italic" fill="#000" >72%</text>
<text transform="translate(428.92,420.10) scale(0.843,1)" font-family="'Liberation Serif',serif" font-size="15.7" text-anchor="middle" font-weight="normal" font-style="italic" fill="#000" >70%</text>
<text transform="translate(520.34,420.10) scale(0.843,1)" font-family="'Liberation Serif',serif" font-size="15.7" text-anchor="middle" font-weight="normal" font-style="italic" fill="#000" >95%</text>
<text transform="translate(611.76,420.10) scale(0.843,1)" font-family="'Liberation Serif',serif" font-size="15.7" text-anchor="middle" font-weight="normal" font-style="italic" fill="#000" >96%</text>
<text transform="translate(703.18,420.10) scale(0.843,1)" font-family="'Liberation Serif',serif" font-size="15.7" text-anchor="middle" font-weight="normal" font-style="italic" fill="#000" >70%</text>
<text transform="translate(154.66,464.60) scale(0.843,1)" font-family="'Liberation Serif',serif" font-size="15.7" text-anchor="middle" font-weight="normal" font-style="normal" fill="#000" >7</text>
<text transform="translate(246.08,464.60) scale(0.843,1)" font-family="'Liberation Serif',serif" font-size="15.7" text-anchor="middle" font-weight="normal" font-style="normal" fill="#000" >16</text>
<text transform="translate(337.50,464.60) scale(0.843,1)" font-family="'Liberation Serif',serif" font-size="15.7" text-anchor="middle" font-weight="normal" font-style="normal" fill="#000" >433</text>
<text transform="translate(428.92,464.60) scale(0.843,1)" font-family="'Liberation Serif',serif" font-size="15.7" text-anchor="middle" font-weight="normal" font-style="normal" fill="#000" >433</text>
<text transform="translate(520.34,464.60) scale(0.843,1)" font-family="'Liberation Serif',serif" font-size="15.7" text-anchor="middle" font-weight="normal" font-style="normal" fill="#000" >16</text>
<text transform="translate(611.76,464.60) scale(0.843,1)" font-family="'Liberation Serif',serif" font-size="15.7" text-anchor="middle" font-weight="normal" font-style="normal" fill="#000" >130</text>
<text transform="translate(703.18,464.60) scale(0.843,1)" font-family="'Liberation Serif',serif" font-size="15.7" text-anchor="middle" font-weight="normal" font-style="normal" fill="#000" >947</text>
<text transform="translate(154.66,479.50) scale(0.843,1)" font-family="'Liberation Serif',serif" font-size="15.7" text-anchor="middle" font-weight="normal" font-style="italic" fill="#000" >81%</text>
<text transform="translate(246.08,479.50) scale(0.843,1)" font-family="'Liberation Serif',serif" font-size="15.7" text-anchor="middle" font-weight="normal" font-style="italic" fill="#000" >73%</text>
<text transform="translate(337.50,479.50) scale(0.843,1)" font-family="'Liberation Serif',serif" font-size="15.7" text-anchor="middle" font-weight="normal" font-style="italic" fill="#000" >84%</text>
<text transform="translate(428.92,479.50) scale(0.843,1)" font-family="'Liberation Serif',serif" font-size="15.7" text-anchor="middle" font-weight="normal" font-style="italic" fill="#000" >63%</text>
<text transform="translate(520.34,479.50) scale(0.843,1)" font-family="'Liberation Serif',serif" font-size="15.7" text-anchor="middle" font-weight="normal" font-style="italic" fill="#000" >84%</text>
<text transform="translate(611.76,479.50) scale(0.843,1)" font-family="'Liberation Serif',serif" font-size="15.7" text-anchor="middle" font-weight="normal" font-style="italic" fill="#000" >89%</text>
<text transform="translate(703.18,479.50) scale(0.843,1)" font-family="'Liberation Serif',serif" font-size="15.7" text-anchor="middle" font-weight="normal" font-style="italic" fill="#000" >75%</text>
<text transform="translate(154.66,524.00) scale(0.843,1)" font-family="'Liberation Serif',serif" font-size="15.7" text-anchor="middle" font-weight="normal" font-style="normal" fill="#000" >0.8</text>
<text transform="translate(246.08,524.00) scale(0.843,1)" font-family="'Liberation Serif',serif" font-size="15.7" text-anchor="middle" font-weight="normal" font-style="normal" fill="#000" >0.8</text>
<text transform="translate(337.50,524.00) scale(0.843,1)" font-family="'Liberation Serif',serif" font-size="15.7" text-anchor="middle" font-weight="normal" font-style="normal" fill="#000" >119</text>
<text transform="translate(428.92,524.00) scale(0.843,1)" font-family="'Liberation Serif',serif" font-size="15.7" text-anchor="middle" font-weight="normal" font-style="normal" fill="#000" >22</text>
<text transform="translate(520.34,524.00) scale(0.843,1)" font-family="'Liberation Serif',serif" font-size="15.7" text-anchor="middle" font-weight="normal" font-style="normal" fill="#000" >5</text>
<text transform="translate(611.76,524.00) scale(0.843,1)" font-family="'Liberation Serif',serif" font-size="15.7" text-anchor="middle" font-weight="normal" font-style="normal" fill="#000" >40</text>
<text transform="translate(703.18,524.00) scale(0.843,1)" font-family="'Liberation Serif',serif" font-size="15.7" text-anchor="middle" font-weight="normal" font-style="normal" fill="#000" >187</text>
<text transform="translate(154.66,539.20) scale(0.843,1)" font-family="'Liberation Serif',serif" font-size="15.7" text-anchor="middle" font-weight="normal" font-style="italic" fill="#000" >100%</text>
<text transform="translate(246.08,539.20) scale(0.843,1)" font-family="'Liberation Serif',serif" font-size="15.7" text-anchor="middle" font-weight="normal" font-style="italic" fill="#000" >69%</text>
<text transform="translate(337.50,539.20) scale(0.843,1)" font-family="'Liberation Serif',serif" font-size="15.7" text-anchor="middle" font-weight="normal" font-style="italic" fill="#000" >86%</text>
<text transform="translate(428.92,539.20) scale(0.843,1)" font-family="'Liberation Serif',serif" font-size="15.7" text-anchor="middle" font-weight="normal" font-style="italic" fill="#000" >78%</text>
<text transform="translate(520.34,539.20) scale(0.843,1)" font-family="'Liberation Serif',serif" font-size="15.7" text-anchor="middle" font-weight="normal" font-style="italic" fill="#000" >74%</text>
<text transform="translate(611.76,539.20) scale(0.843,1)" font-family="'Liberation Serif',serif" font-size="15.7" text-anchor="middle" font-weight="normal" font-style="italic" fill="#000" >98%</text>
<text transform="translate(703.18,539.20) scale(0.843,1)" font-family="'Liberation Serif',serif" font-size="15.7" text-anchor="middle" font-weight="normal" font-style="italic" fill="#000" >87%</text>
</svg></body></html>
